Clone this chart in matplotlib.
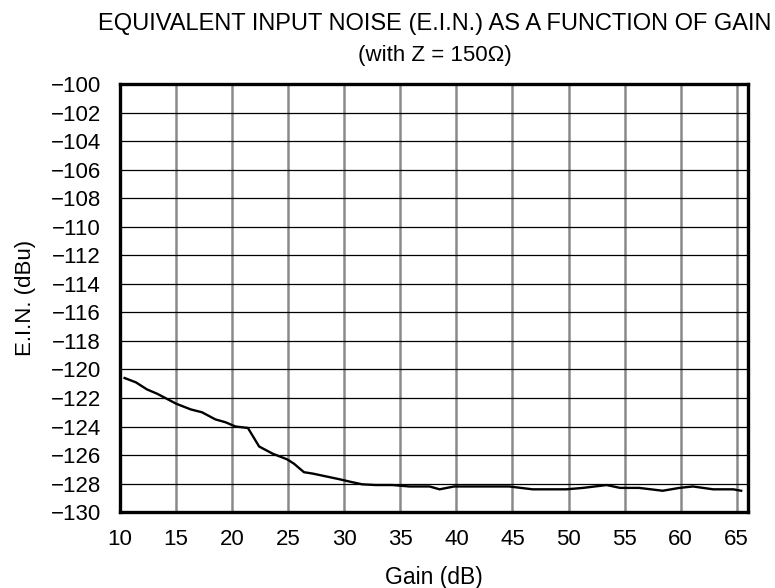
import numpy as np
import matplotlib.pyplot as plt

# E.I.N. vs gain
gain_db = [10.4, 11.4, 12.4, 13.3, 15.0, 16.3, 17.3, 18.5, 19.4, 20.3, 21.4,
           22.4, 23.6, 24.9, 25.5, 26.4, 27.2, 28.4, 29.6, 30.7, 31.6, 32.8,
           34.3, 35.8, 37.6, 38.5, 39.8, 42.3, 44.7, 46.8, 49.8, 51.3, 53.4,
           54.6, 56.3, 58.4, 59.9, 61.1, 62.9, 64.7, 65.4]
ein_dbu = [-120.6, -120.9, -121.4, -121.7, -122.4, -122.8, -123.0, -123.5,
           -123.7, -124.0, -124.1, -125.4, -125.9, -126.3, -126.6, -127.2,
           -127.3, -127.5, -127.7, -127.9, -128.05, -128.1, -128.1, -128.2,
           -128.2, -128.4, -128.2, -128.2, -128.2, -128.4, -128.4, -128.3,
           -128.1, -128.3, -128.3, -128.5, -128.3, -128.2, -128.4, -128.4,
           -128.5]

x_ticks = list(range(10, 70, 5))
y_ticks = list(range(-130, -98, 2))

plt.rcParams['font.family'] = ['Liberation Sans', 'DejaVu Sans']

fig = plt.figure(figsize=(7.75, 5.88), dpi=100)
ax = fig.add_axes([0.155, 0.129, 0.81, 0.728])

ax.plot(gain_db, ein_dbu, color='black', linewidth=1.7, zorder=3)

ax.set_xlim(10, 66)
ax.set_ylim(-130, -100)
ax.set_xticks(x_ticks)
ax.set_yticks(y_ticks)
ax.set_yticklabels([f'\u2212{abs(v)}' for v in y_ticks])
ax.tick_params(length=0, labelsize=16)
ax.tick_params(axis='y', pad=14)
ax.tick_params(axis='x', pad=12)

# vertical grid grey and heavier, horizontal grid thin black
for x in x_ticks[1:]:
    ax.axvline(x, color='#8a8a8a', linewidth=1.8, zorder=1)
for y in y_ticks[1:-1]:
    ax.axhline(y, color='black', linewidth=0.9, zorder=1)

for sp in ax.spines.values():
    sp.set_linewidth(2.4)

ax.set_xlabel('Gain (dB)', fontsize=16.5, va='center')
ax.xaxis.set_label_coords(0.5, -0.152)
ax.set_ylabel('E.I.N. (dBu)', fontsize=16, va='center')
ax.yaxis.set_label_coords(-0.151, 0.5)

fig.text(0.561, 0.960, 'EQUIVALENT INPUT NOISE (E.I.N.) AS A FUNCTION OF GAIN',
         ha='center', va='center', fontsize=17)
fig.text(0.561, 0.906, '(with Z = 150\u03a9)', ha='center', va='center', fontsize=16)

fig.savefig('out.png', dpi=100)
